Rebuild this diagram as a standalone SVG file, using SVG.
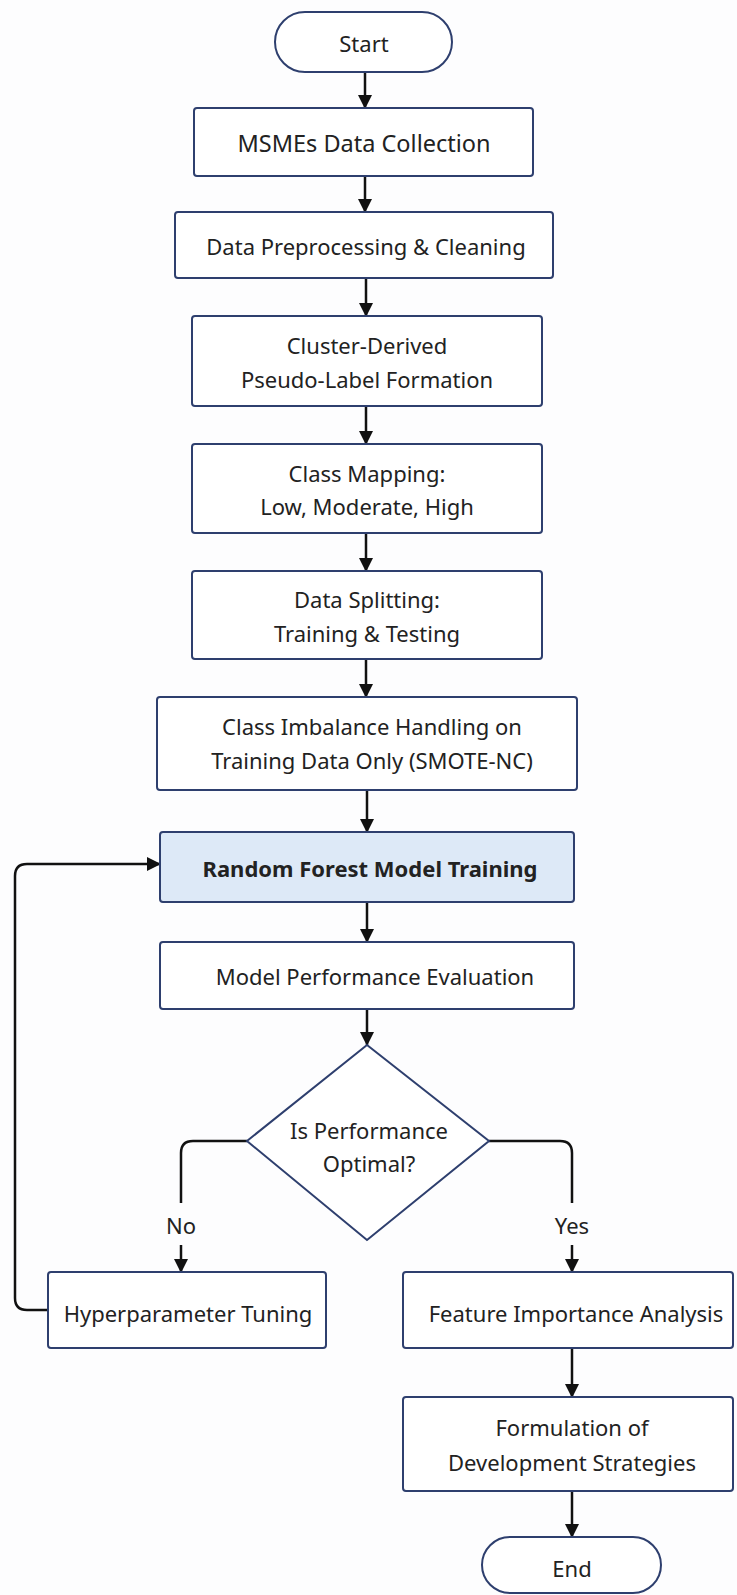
<svg xmlns="http://www.w3.org/2000/svg" width="737" height="1595" viewBox="0 0 737 1595">
  <style>
    .box { fill: #ffffff; stroke: #2e3f6e; stroke-width: 2; }
    .hl { fill: #dde9f7; stroke: #2e3f6e; stroke-width: 2; }
    .txt { font-family: "Noto Sans", "Open Sans", sans-serif; font-size: 22px; fill: #222222; text-anchor: middle; dominant-baseline: central; }
    .bold { font-weight: bold; }
    .edge { fill: none; stroke: #111111; stroke-width: 2.5; }
    .arrow { fill: none; stroke: #111111; stroke-width: 2.5; marker-end: url(#head); }
  </style>
  <defs>
    <marker id="head" viewBox="0 0 14 14" refX="13" refY="7" markerWidth="14" markerHeight="14" markerUnits="userSpaceOnUse" orient="auto">
      <path d="M0,0 L14,7 L0,14 z" fill="#111111"/>
    </marker>
  </defs>
  <rect width="737" height="1595" fill="#fdfdfe"/>

  <!-- connectors -->
  <g id="connectors">
    <line class="arrow" x1="365" y1="72" x2="365" y2="108"/>
    <line class="arrow" x1="365" y1="176" x2="365" y2="212"/>
    <line class="arrow" x1="366" y1="278" x2="366" y2="316"/>
    <line class="arrow" x1="366" y1="406" x2="366" y2="444"/>
    <line class="arrow" x1="366" y1="533" x2="366" y2="571"/>
    <line class="arrow" x1="366" y1="659" x2="366" y2="697"/>
    <line class="arrow" x1="367" y1="790" x2="367" y2="832"/>
    <line class="arrow" x1="367" y1="902" x2="367" y2="942"/>
    <line class="arrow" x1="367" y1="1009" x2="367" y2="1045"/>
    <!-- No branch -->
    <path class="edge" d="M247,1141 H193 Q181,1141 181,1153 V1203"/>
    <line class="arrow" x1="181" y1="1245" x2="181" y2="1272"/>
    <!-- Yes branch -->
    <path class="edge" d="M489,1141 H560 Q572,1141 572,1153 V1203"/>
    <line class="arrow" x1="572" y1="1245" x2="572" y2="1272"/>
    <!-- loop back to training -->
    <path class="arrow" d="M48,1310 H27 Q15,1310 15,1298 V876 Q15,864 27,864 H160"/>
    <line class="arrow" x1="572" y1="1348" x2="572" y2="1397"/>
    <line class="arrow" x1="572" y1="1491" x2="572" y2="1537"/>
    <text class="txt" x="181" y="1225">No</text>
    <text class="txt" x="572" y="1225">Yes</text>
  </g>

  <g id="start">
    <rect class="box" x="275" y="12" width="177" height="60" rx="30"/>
    <text class="txt" x="364" y="43">Start</text>
  </g>
  <g id="collection">
    <rect class="box" x="194" y="108" width="339" height="68" rx="3"/>
    <text class="txt" x="364" y="143" style="font-size:23.5px">MSMEs Data Collection</text>
  </g>
  <g id="preprocessing">
    <rect class="box" x="175" y="212" width="378" height="66" rx="3"/>
    <text class="txt" x="366" y="246">Data Preprocessing &amp; Cleaning</text>
  </g>
  <g id="pseudo-label">
    <rect class="box" x="192" y="316" width="350" height="90" rx="3"/>
    <text class="txt" x="367" y="345">Cluster-Derived</text>
    <text class="txt" x="367" y="379">Pseudo-Label Formation</text>
  </g>
  <g id="class-mapping">
    <rect class="box" x="192" y="444" width="350" height="89" rx="3"/>
    <text class="txt" x="367" y="473">Class Mapping:</text>
    <text class="txt" x="367" y="506">Low, Moderate, High</text>
  </g>
  <g id="splitting">
    <rect class="box" x="192" y="571" width="350" height="88" rx="3"/>
    <text class="txt" x="367" y="599">Data Splitting:</text>
    <text class="txt" x="367" y="633">Training &amp; Testing</text>
  </g>
  <g id="imbalance">
    <rect class="box" x="157" y="697" width="420" height="93" rx="3"/>
    <text class="txt" x="372" y="726">Class Imbalance Handling on</text>
    <text class="txt" x="372" y="760">Training Data Only (SMOTE-NC)</text>
  </g>
  <g id="training">
    <rect class="hl" x="160" y="832" width="414" height="70" rx="3"/>
    <text class="txt bold" x="370" y="868">Random Forest Model Training</text>
  </g>
  <g id="evaluation">
    <rect class="box" x="160" y="942" width="414" height="67" rx="3"/>
    <text class="txt" x="375" y="976">Model Performance Evaluation</text>
  </g>
  <g id="decision">
    <polygon class="box" points="367,1045 489,1141 367,1240 247,1141"/>
    <text class="txt" x="369" y="1130">Is Performance</text>
    <text class="txt" x="369" y="1163">Optimal?</text>
  </g>
  <g id="tuning">
    <rect class="box" x="48" y="1272" width="278" height="76" rx="3"/>
    <text class="txt" x="188" y="1313">Hyperparameter Tuning</text>
  </g>
  <g id="importance">
    <rect class="box" x="403" y="1272" width="330" height="76" rx="3"/>
    <text class="txt" x="576" y="1313">Feature Importance Analysis</text>
  </g>
  <g id="strategies">
    <rect class="box" x="403" y="1397" width="330" height="94" rx="3"/>
    <text class="txt" x="572" y="1427">Formulation of</text>
    <text class="txt" x="572" y="1462">Development Strategies</text>
  </g>
  <g id="end">
    <rect class="box" x="482" y="1537" width="179" height="56" rx="28"/>
    <text class="txt" x="572" y="1568">End</text>
  </g>
</svg>
